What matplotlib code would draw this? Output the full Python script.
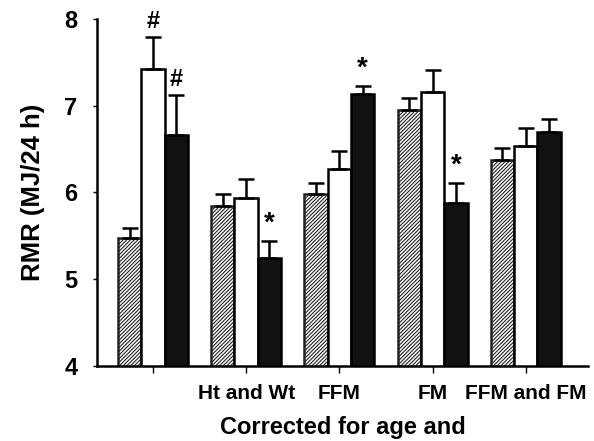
import numpy as np
import matplotlib
matplotlib.use('Agg')
import matplotlib.pyplot as plt

plt.rcParams['font.family'] = ['Liberation Sans', 'DejaVu Sans']
plt.rcParams['font.weight'] = 'bold'
plt.rcParams['hatch.linewidth'] = 0.8
plt.rcParams['hatch.color'] = '#333333'

groups = ['', 'Ht and Wt', 'FFM', 'FM', 'FFM and FM']
hatched = [5.47, 5.84, 5.98, 6.95, 6.37]
hatched_err = [0.12, 0.14, 0.13, 0.14, 0.14]
white = [7.42, 5.94, 6.27, 7.16, 6.54]
white_err = [0.37, 0.22, 0.21, 0.25, 0.20]
black = [6.66, 5.25, 7.13, 5.88, 6.70]
black_err = [0.46, 0.19, 0.10, 0.23, 0.15]
marks_white = ['#', '', '', '', '']
marks_black = ['#', '*', '*', '*', '']

fig = plt.figure(figsize=(5.94, 4.41), dpi=100)
ax = fig.add_axes([0.1633, 0.170, 0.827, 0.787])

x = np.arange(len(groups))
w = 0.25
ekw = dict(elinewidth=1.8, capthick=1.8, capsize=5.5, ecolor='k')
lowerr = np.zeros(len(groups))

ax.bar(x - w, hatched, w, color='white', edgecolor='#222222',
       hatch='/////////', linewidth=1.8, zorder=2,
       yerr=[lowerr, hatched_err], error_kw=ekw)
ax.bar(x, white, w, color='white', edgecolor='k', linewidth=1.8, zorder=2,
       yerr=[lowerr, white_err], error_kw=ekw)
ax.bar(x + w, black, w, color='#111111', edgecolor='k', linewidth=1.8, zorder=2,
       yerr=[lowerr, black_err], error_kw=ekw)

for i in range(len(groups)):
    if marks_white[i]:
        ax.text(x[i], white[i] + white_err[i] + 0.05, marks_white[i],
                ha='center', va='bottom', fontsize=17, fontweight='bold')
    if marks_black[i]:
        ax.text(x[i] + w, black[i] + black_err[i] + 0.05, marks_black[i],
                ha='center', va='bottom', fontsize=20 if marks_black[i] == '*' else 17,
                fontweight='bold')

ax.set_ylim(4, 8)
ax.set_xlim(-0.6, 4.67)
ax.set_yticks([4, 5, 6, 7, 8])
ax.set_xticks(x)
ax.set_xticklabels(groups, fontsize=15, fontweight='bold')
ax.tick_params(axis='y', labelsize=17, length=3, width=1, pad=11)
ax.tick_params(axis='x', length=5, width=1, pad=8)
for lab in ax.get_yticklabels():
    lab.set_fontweight('bold')

ax.spines['top'].set_visible(False)
ax.spines['right'].set_visible(False)
ax.spines['left'].set_linewidth(1.8)
ax.spines['bottom'].set_linewidth(1.8)

ax.set_ylabel('RMR (MJ/24 h)', fontsize=18.5, fontweight='bold', labelpad=14)
ax.set_xlabel('Corrected for age and', fontsize=17, fontweight='bold', labelpad=9)

plt.savefig('out.png', dpi=100)
